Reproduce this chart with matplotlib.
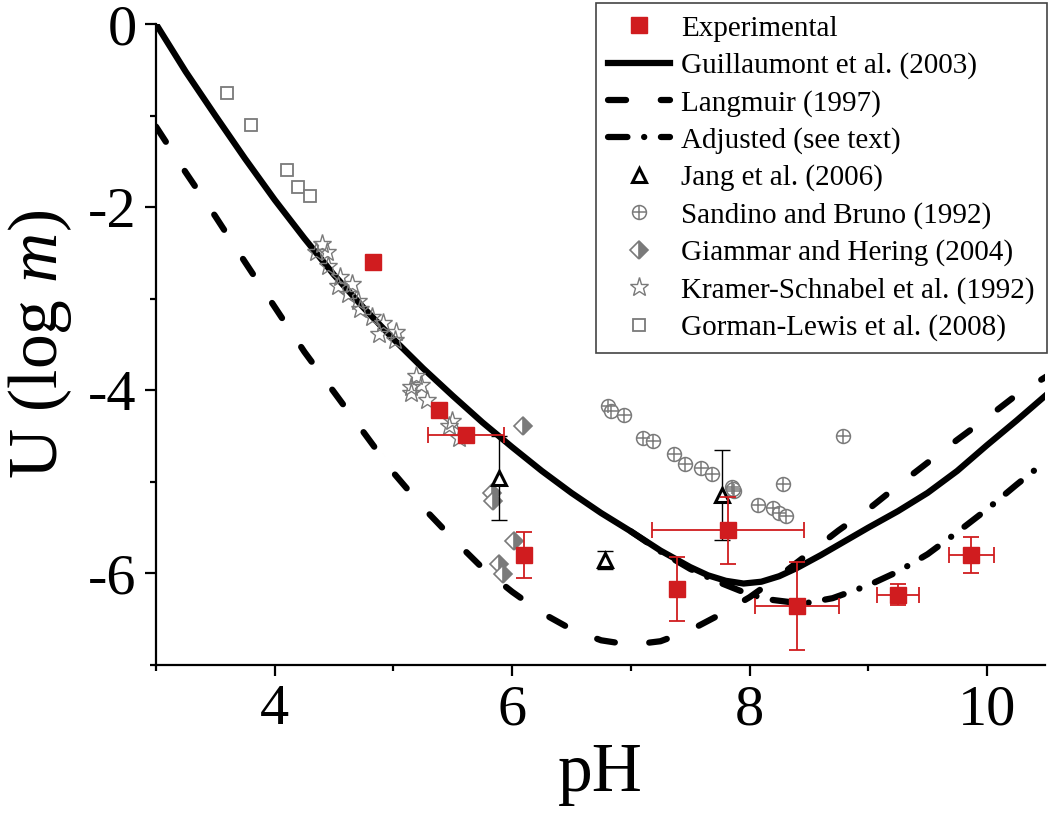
import matplotlib
matplotlib.use("Agg")
import matplotlib.pyplot as plt
from matplotlib.lines import Line2D
from matplotlib.ticker import MultipleLocator

plt.rcParams['font.family'] = ['Liberation Serif', 'DejaVu Serif']
plt.rcParams['mathtext.fontset'] = 'custom'
plt.rcParams['mathtext.rm'] = 'Liberation Serif'
plt.rcParams['mathtext.it'] = 'Liberation Serif:italic'
plt.rcParams['axes.unicode_minus'] = False
plt.rcParams['lines.scale_dashes'] = False

# ----------------------- data
guil_ph = [3.0, 3.25, 3.5, 3.75, 4.0, 4.25, 4.5, 4.75, 5.0, 5.25, 5.5, 5.75, 6.0, 6.25,
           6.5, 6.75, 7.0, 7.25, 7.5, 7.65, 7.8, 7.95, 8.1, 8.25, 8.4, 8.6, 8.8, 9.0,
           9.25, 9.5, 9.75, 10.0, 10.25, 10.5]
guil_u = [0.0, -0.52, -1.0, -1.47, -1.92, -2.34, -2.74, -3.1, -3.44, -3.76, -4.06, -4.35,
          -4.62, -4.88, -5.12, -5.34, -5.54, -5.75, -5.93, -6.02, -6.08, -6.11, -6.09, -6.03,
          -5.94, -5.8, -5.65, -5.5, -5.32, -5.12, -4.88, -4.6, -4.33, -4.05]

lang_ph = [3.0, 3.25, 3.5, 3.75, 4.0, 4.25, 4.5, 4.75, 5.0, 5.25, 5.5, 5.75, 6.0, 6.25,
           6.5, 6.75, 7.0, 7.25, 7.5, 7.75, 8.0, 8.25, 8.5, 8.75, 9.0, 9.25, 9.5, 9.75,
           10.0, 10.25, 10.5]
lang_u = [-1.12, -1.62, -2.1, -2.6, -3.09, -3.58, -4.02, -4.46, -4.9, -5.28, -5.62, -5.94,
          -6.2, -6.43, -6.61, -6.73, -6.78, -6.74, -6.62, -6.45, -6.26, -6.03, -5.78, -5.53,
          -5.3, -5.04, -4.79, -4.54, -4.3, -4.05, -3.85]

adj_ph = [7.0, 7.25, 7.5, 7.75, 8.0, 8.2, 8.45, 8.7, 9.0, 9.25, 9.5, 9.75, 10.0, 10.25, 10.5]
adj_u = [-5.54, -5.76, -5.95, -6.1, -6.23, -6.29, -6.33, -6.27, -6.13, -5.98, -5.79, -5.55,
         -5.3, -5.03, -4.77]

exp_ph = [4.83, 5.38, 5.61, 6.10, 7.39, 7.82, 8.40, 9.25, 9.87]
exp_u = [-2.60, -4.22, -4.49, -5.80, -6.17, -5.53, -6.36, -6.23, -5.80]
exp_xerr = [0, 0, 0.32, 0, 0.06, 0.64, 0.35, 0.18, 0.19]
exp_yerr = [0, 0, 0, 0.25, 0.35, 0.37, 0.48, 0.11, 0.20]

jang_ph = [5.89, 6.78, 7.77]
jang_u = [-4.96, -5.85, -5.14]
jang_yerr = [0.46, 0.10, 0.49]

sand_ph = [6.81, 6.83, 6.94, 7.10, 7.19, 7.36, 7.46, 7.59, 7.68, 7.85, 7.87, 7.86, 8.07,
           8.20, 8.25, 8.31, 8.28, 8.79]
sand_u = [-4.17, -4.23, -4.27, -4.52, -4.55, -4.70, -4.80, -4.85, -4.91, -5.06, -5.10, -5.08,
          -5.25, -5.28, -5.34, -5.37, -5.02, -4.50]

giam_ph = [6.09, 5.83, 5.84, 6.02, 5.89, 5.92]
giam_u = [-4.39, -5.12, -5.21, -5.64, -5.90, -6.01]

kram_ph = [4.40, 4.35, 4.44, 4.45, 4.55, 4.65, 4.53, 4.62, 4.70, 4.72, 4.82, 4.91, 5.02,
           4.88, 5.01, 5.19, 5.15, 5.23, 5.15, 5.28, 5.49, 5.47, 5.55]
kram_u = [-2.40, -2.49, -2.49, -2.64, -2.76, -2.84, -2.86, -2.95, -3.02, -3.11, -3.20, -3.27,
          -3.36, -3.38, -3.45, -3.84, -3.96, -3.94, -4.03, -4.11, -4.34, -4.39, -4.52]

gorm_ph = [3.60, 3.80, 4.10, 4.20, 4.30]
gorm_u = [-0.75, -1.10, -1.59, -1.78, -1.88]

labels = ["Experimental", "Guillaumont et al. (2003)", "Langmuir (1997)",
          "Adjusted (see text)", "Jang et al. (2006)", "Sandino and Bruno (1992)",
          "Giammar and Hering (2004)", "Kramer-Schnabel et al. (1992)",
          "Gorman-Lewis et al. (2008)"]

# ----------------------- styles
RED = '#d01c1f'
GRAY = '#7a7a7a'
LW = 4.5
DASH = (0, (13, 25))
DASHDOT = (0, (14, 12, 0.1, 12))

fig = plt.figure(figsize=(10.5, 8.13), dpi=100)
ax = fig.add_axes([0.1486, 0.182, 0.8467, 0.7884])

ax.plot(guil_ph, guil_u, color='k', lw=LW, zorder=2)
ax.plot(lang_ph, lang_u, color='k', lw=LW, ls=DASH, dash_capstyle='round', zorder=2)
ax.plot(adj_ph, adj_u, color='k', lw=LW, ls=DASHDOT, dash_capstyle='round', zorder=2)

ax.plot(gorm_ph, gorm_u, ls='none', marker='s', ms=9, mfc='white', mec=GRAY, mew=1.3, zorder=3)
ax.plot(kram_ph, kram_u, ls='none', marker='*', ms=14, mfc='none', mec=GRAY, mew=1.0, zorder=3)
ax.plot(giam_ph, giam_u, ls='none', marker='D', ms=9, fillstyle='right', mfc=GRAY,
        mfcalt='white', mec=GRAY, mew=1.2, zorder=3)

ax.errorbar(jang_ph, jang_u, yerr=jang_yerr, fmt='none', ecolor='k', elinewidth=1.0,
            capsize=6, capthick=1.0, zorder=3)
ax.plot(jang_ph, jang_u, ls='none', marker='^', ms=10, mfc='white', mec='k', mew=2.2, zorder=4)

ax.plot(sand_ph, sand_u, ls='none', marker='o', ms=10, mfc='white', mec=GRAY, mew=1.1, zorder=5)
ax.plot(sand_ph, sand_u, ls='none', marker='+', ms=10, mec=GRAY, mew=1.1, zorder=5)

ax.errorbar(exp_ph, exp_u, xerr=exp_xerr, yerr=exp_yerr, fmt='none', ecolor=RED,
            elinewidth=1.3, capsize=6, capthick=1.3, zorder=6)
ax.plot(exp_ph, exp_u, ls='none', marker='s', ms=12, mfc=RED, mec=RED, zorder=7)

# ----------------------- axes
ax.set_xlim(3, 10.49)
ax.set_ylim(-7, 0)
ax.xaxis.set_major_locator(MultipleLocator(2))
ax.xaxis.set_minor_locator(MultipleLocator(1))
ax.yaxis.set_major_locator(MultipleLocator(2))
ax.yaxis.set_minor_locator(MultipleLocator(1))
ax.spines['top'].set_visible(False)
ax.spines['right'].set_visible(False)
for s in ('left', 'bottom'):
    ax.spines[s].set_linewidth(1.6)
ax.tick_params(which='major', direction='out', length=8, width=1.6, labelsize=42, pad=6)
ax.tick_params(which='minor', direction='out', length=4, width=1.6)
ax.set_xlabel('pH', fontsize=50, labelpad=4)
ax.set_ylabel('U (log $m$)', fontsize=50, labelpad=10)

# ----------------------- legend
h_exp = Line2D([], [], ls='none', marker='s', ms=12, mfc=RED, mec=RED)
h_guil = Line2D([], [], color='k', lw=LW)
h_lang = Line2D([], [], color='k', lw=LW, ls=DASH, dash_capstyle='round')
h_adj = Line2D([], [], color='k', lw=LW, ls=DASHDOT, dash_capstyle='round')
h_jang = Line2D([], [], ls='none', marker='^', ms=10, mfc='white', mec='k', mew=2.2)
h_sand = (Line2D([], [], ls='none', marker='o', ms=10, mfc='white', mec=GRAY, mew=1.1),
          Line2D([], [], ls='none', marker='+', ms=10, mec=GRAY, mew=1.1))
h_giam = Line2D([], [], ls='none', marker='D', ms=9, fillstyle='right', mfc=GRAY,
                mfcalt='white', mec=GRAY, mew=1.2)
h_kram = Line2D([], [], ls='none', marker='*', ms=14, mfc='none', mec=GRAY, mew=1.0)
h_gorm = Line2D([], [], ls='none', marker='s', ms=9, mfc='white', mec=GRAY, mew=1.3)

leg = ax.legend([h_exp, h_guil, h_lang, h_adj, h_jang, h_sand, h_giam, h_kram, h_gorm], labels,
                loc='upper right', bbox_to_anchor=(1047 / 1050, 1 - 3 / 813),
                bbox_transform=fig.transFigure, borderaxespad=0, fontsize=21,
                frameon=True, fancybox=False, edgecolor='#444444', framealpha=1,
                labelspacing=0.36, borderpad=0.42, handlelength=2.1, handletextpad=0.4)
leg.get_frame().set_linewidth(1.2)

fig.savefig('out.png', dpi=100)
